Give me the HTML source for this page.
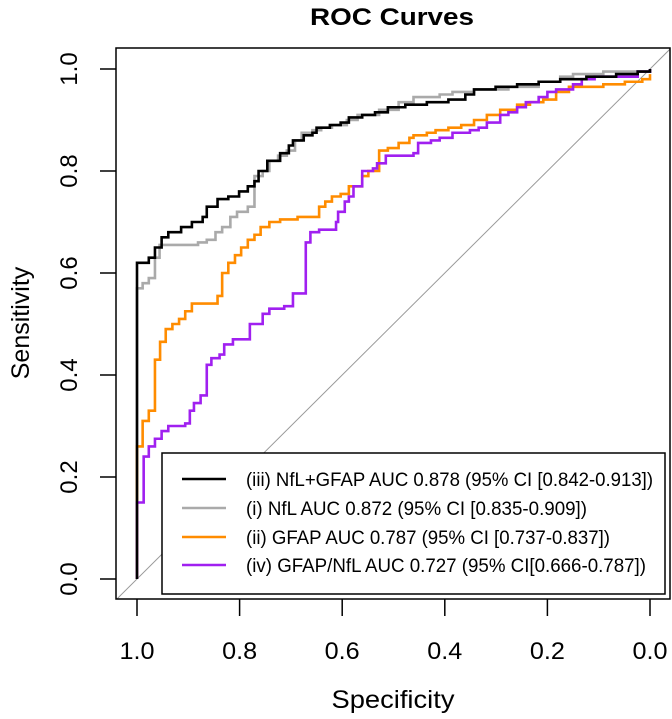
<!DOCTYPE html>
<html><head><meta charset="utf-8"><style>
html,body{margin:0;padding:0;background:#fff;}
svg{display:block;font-family:"Liberation Sans",sans-serif;}
</style></head><body>
<svg id="chart" width="672" height="719" viewBox="0 0 672 719" xmlns="http://www.w3.org/2000/svg">
<text x="392" y="25" text-anchor="middle" font-size="24" font-weight="bold" textLength="164" lengthAdjust="spacingAndGlyphs">ROC Curves</text>
<g id="axes"></g>
<g id="series"></g>
<g id="legend"></g>
</svg>
<script>
const xTicks = [1.0, 0.8, 0.6, 0.4, 0.2, 0.0];
const xTickLabels = ["1.0","0.8","0.6","0.4","0.2","0.0"];
const yTicks = [0.0, 0.2, 0.4, 0.6, 0.8, 1.0];
const yTickLabels = ["0.0","0.2","0.4","0.6","0.8","1.0"];
const seriesNames = ["(iii) NfL+GFAP AUC 0.878 (95% CI [0.842-0.913])","(i) NfL AUC 0.872 (95% CI [0.835-0.909])","(ii) GFAP AUC 0.787 (95% CI [0.737-0.837])","(iv) GFAP/NfL AUC 0.727 (95% CI[0.666-0.787])"];
const seriesColors = ["#000000","#aaaaaa","#ff8c00","#a020f0"];

const specGray = [1.0,1.0,.989,.977,.965,.956,.893,.881,.864,.847,.834,.818,.805,.784,.771,.755,.742,.725,.708,.692,.679,.658,.641,.620,.591,.570,.528,.490,.461,.410,.385,.343,.276,.217,.175,.150,.091,0];
const sensGray = [0,.57,.58,.59,.63,.655,.655,.66,.665,.68,.69,.71,.72,.73,.79,.80,.82,.83,.84,.86,.875,.88,.885,.89,.90,.91,.92,.935,.945,.95,.955,.96,.965,.975,.985,.99,.995,1.0];

const specBlack = [1.0,1.0,.977,.965,.952,.939,.914,.893,.872,.864,.843,.822,.801,.784,.771,.763,.746,.721,.704,.696,.675,.658,.650,.624,.603,.587,.561,.536,.511,.477,.435,.393,.360,.343,.301,.259,.217,.175,.124,.066,.024,0];
const sensBlack = [0,.62,.63,.65,.67,.68,.69,.70,.71,.73,.745,.75,.76,.77,.78,.80,.82,.835,.85,.86,.87,.875,.885,.89,.895,.905,.91,.915,.925,.93,.935,.94,.95,.96,.965,.97,.975,.98,.985,.99,.995,1.0];

const specOrange = [1.0,1.0,.989,.977,.965,.955,.944,.931,.918,.906,.893,.855,.843,.834,.822,.809,.797,.784,.771,.759,.742,.721,.687,.650,.645,.633,.620,.603,.587,.561,.549,.528,.511,.490,.469,.461,.435,.418,.393,.368,.343,.318,.292,.259,.234,.208,.183,.158,.091,.049,.015,0];
const sensOrange = [0,.26,.31,.33,.43,.465,.49,.50,.51,.525,.54,.54,.555,.60,.62,.635,.65,.665,.675,.69,.70,.705,.71,.71,.73,.74,.75,.755,.77,.79,.80,.84,.845,.855,.865,.87,.875,.88,.885,.89,.90,.91,.92,.93,.935,.94,.955,.965,.97,.975,.98,.99];

const specPurple = [1.0,1.0,.987,.977,.965,.952,.939,.906,.897,.889,.876,.864,.855,.839,.830,.813,.780,.755,.742,.713,.696,.671,.662,.645,.612,.608,.595,.587,.578,.561,.540,.532,.515,.461,.452,.427,.410,.385,.351,.334,.318,.292,.276,.259,.242,.217,.200,.183,.150,.133,.108,.040,.024,0];
const sensPurple = [0,.15,.24,.26,.275,.29,.30,.305,.33,.345,.36,.42,.433,.44,.46,.47,.50,.52,.53,.535,.56,.66,.68,.685,.70,.72,.74,.75,.77,.80,.805,.815,.83,.835,.855,.86,.865,.875,.88,.885,.895,.91,.915,.925,.935,.945,.955,.96,.97,.98,.985,.985,.995,1.0];

const NS="http://www.w3.org/2000/svg";
const X0=116,X1=670,Y0=48,Y1=599;
function xs(s){return 650-(s)*513;}
function ys(v){return 579-v*510;}
function mk(tag,attrs,parent){const e=document.createElementNS(NS,tag);for(const k in attrs)e.setAttribute(k,attrs[k]);parent.appendChild(e);return e;}
const axes=document.getElementById('axes'), ser=document.getElementById('series'), leg=document.getElementById('legend');

const clip=mk('clipPath',{id:'pc'},axes);
mk('rect',{x:X0,y:Y0,width:X1-X0,height:Y1-Y0},clip);
const diag=mk('line',{x1:xs(1.04),y1:ys(-0.04),x2:xs(-0.04),y2:ys(1.04),stroke:'#999',"stroke-width":1,"clip-path":'url(#pc)'},axes);



const box=mk('rect',{x:X0,y:Y0,width:X1-X0,height:Y1-Y0,fill:'none',stroke:'#000',"stroke-width":1.5},axes);



xTicks.forEach((t,i)=>{
  const tk=mk('line',{x1:xs(t),y1:Y1,x2:xs(t),y2:Y1+17,stroke:'#000',"stroke-width":1.5},axes);
  
  
  const tx=mk('text',{x:xs(t),y:659,"text-anchor":'middle',"font-size":24,textLength:35,lengthAdjust:'spacingAndGlyphs'},axes);
  tx.textContent=xTickLabels[i];
  
  
});
yTicks.forEach((t,i)=>{
  const tk=mk('line',{x1:X0-16,y1:ys(t),x2:X0,y2:ys(t),stroke:'#000',"stroke-width":1.5},axes);
  
  
  const tx=mk('text',{x:0,y:0,"text-anchor":'middle',"font-size":24,transform:`translate(77,${ys(t)}) rotate(-90)`},axes);
  tx.textContent=yTickLabels[i];
  
  
});
const xt=mk('text',{x:393,y:708,"text-anchor":'middle',"font-size":25,textLength:123,lengthAdjust:'spacingAndGlyphs'},axes);
xt.textContent='Specificity';


const yt=mk('text',{x:0,y:0,"text-anchor":'middle',"font-size":25,transform:'translate(29,323) rotate(-90)'},axes);
yt.textContent='Sensitivity';



function stepPath(sp,se){
  let d=`M${xs(sp[0])},${ys(se[0])}`;
  for(let i=1;i<sp.length;i++){d+=` L${xs(sp[i])},${ys(se[i-1])} L${xs(sp[i])},${ys(se[i])}`;}
  return d;
}
const data=[[specGray,sensGray,1,'nfl-curve'],[specOrange,sensOrange,2,'gfap-curve'],[specPurple,sensPurple,3,'gfap-nfl-ratio-curve'],[specBlack,sensBlack,0,'nfl-gfap-curve']];
data.forEach(d=>{
  const p=mk('path',{d:stepPath(d[0],d[1]),fill:'none',stroke:seriesColors[d[2]],"stroke-width":2.6},ser);
  
  
});

const lb=mk('rect',{x:162,y:453,width:503,height:141,fill:'#fff',stroke:'#000',"stroke-width":1.5},leg);


const ly=[479,508,537,565];
const lw=[407,341,364,400];
seriesNames.forEach((n,i)=>{
  const g=mk('g',{},leg);
  
  
  mk('line',{x1:182,y1:ly[i],x2:226,y2:ly[i],stroke:seriesColors[i],"stroke-width":2.6},g);
  const t=mk('text',{x:246,y:ly[i]+7,"font-size":19,textLength:lw[i],lengthAdjust:'spacingAndGlyphs'},g);
  t.textContent=n;
});
</script>
</body></html>
